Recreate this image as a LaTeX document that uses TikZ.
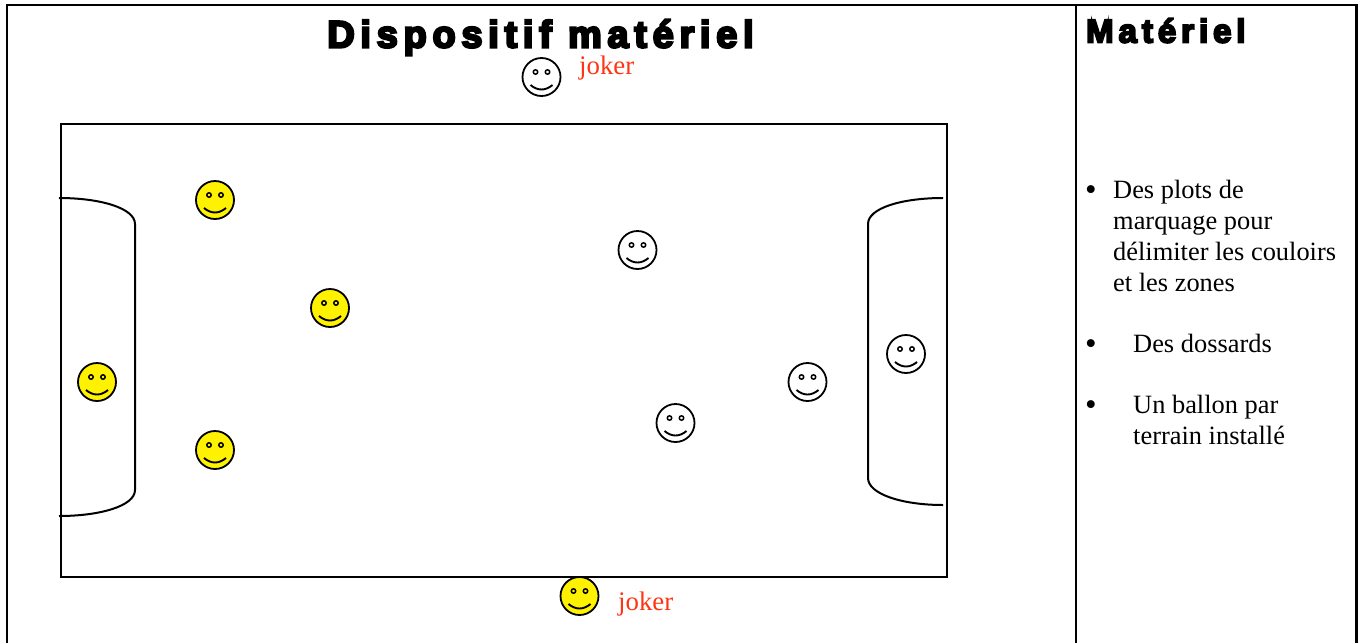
\documentclass[tikz,border=0pt]{standalone}
\usepackage{fontspec}
\setmainfont{Liberation Serif}
\newfontfamily\blackfont[FakeBold=6, LetterSpace=15]{Liberation Sans Bold}
\usetikzlibrary{positioning, calc}
\definecolor{jokerred}{HTML}{FF3412}

\begin{document}
\begin{tikzpicture}[
    x=1pt, y=-1pt,
    frameline/.style={line width=2.2pt, black},
    fieldline/.style={line width=2pt, black},
    heading/.style={inner sep=0pt, font=\blackfont\fontsize{38}{42}\selectfont},
    subheading/.style={inner sep=0pt, font=\blackfont\fontsize{33}{36}\selectfont},
    bodytext/.style={inner sep=0pt, align=left, anchor=base west, font=\fontsize{26.4}{31}\selectfont},
    bullettext/.style={inner sep=0pt, anchor=base west, font=\fontsize{33}{33}\selectfont},
    jokertext/.style={inner sep=0pt, anchor=base west, text=jokerred, font=\fontsize{26.8}{30}\selectfont},
    smiley/.style={
        circle, draw, line width=1.8pt, minimum size=38pt, inner sep=0pt,
        path picture={
            \coordinate (c) at (path picture bounding box.center);
            \draw[line width=1.5pt] ($(c)+(-6,-5)$) circle (2.2pt);
            \draw[line width=1.5pt] ($(c)+(6,-5)$) circle (2.2pt);
            \draw[line width=1.9pt] ($(c)+(-11,8)$) .. controls ($(c)+(-4,14)$) and ($(c)+(4,14)$) .. ($(c)+(11,8)$);
        }
    },
    team/.style={smiley, fill=yellow},
    other/.style={smiley, fill=white}
]
    \useasboundingbox (0,0) rectangle (1362,643);

    % Frame ===========================
    \draw[frameline] (7,643) -- (7,5) -- (1356.5,5) -- (1356.5,643);
    \draw[frameline] (1076,5) -- (1076,643);

    % Field ===========================
    \draw[fieldline] (61,123.5) rectangle (947,576.5);
    \draw[fieldline] (59,198) .. controls (100,198) and (135,208) .. (135,224) -- (135,490) .. controls (135,506) and (100,516) .. (59,516);
    \draw[fieldline] (943,198) .. controls (902,198) and (868,208) .. (868,224) -- (868,478) .. controls (868,494) and (902,505) .. (943,505);

    % Players ===========================
    \node[team] (keeperA) at (97,382) {};
    \node[team] (playerA) at (215,200) {};
    \node[team] (playerB) at (330,308) {};
    \node[team] (playerC) at (215,450) {};
    \node[team] (jokerB) at (579.5,596) {};

    \node[other] (keeperB) at (906,354) {};
    \node[other] (playerD) at (637.5,250) {};
    \node[other] (playerE) at (807.5,382) {};
    \node[other] (playerF) at (675.5,423) {};
    \node[other] (jokerA) at (541.5,77) {};

    % Labels ===========================
    \node[jokertext] (labelA) at (579,74) {joker};
    \node[jokertext] (labelB) at (618,610) {joker};

    \node[heading, anchor=base] (titleA) at (540.5,47.5) {Dispositif matériel};
    \node[subheading, anchor=base west] (titleB) at (1086,42.5) {Matériel};

    % List ===========================
    \node[bullettext] (bulletA) at (1085,200) {•};
    \node[bodytext] (itemA) at (1113,291) {Des plots de\\marquage pour\\délimiter les couloirs\\et les zones};
    \node[bullettext] (bulletB) at (1085,354) {•};
    \node[bodytext] (itemB) at (1133,352) {Des dossards};
    \node[bullettext] (bulletC) at (1085,415) {•};
    \node[bodytext] (itemC) at (1133,444) {Un ballon par\\terrain installé};
\end{tikzpicture}
\end{document}
